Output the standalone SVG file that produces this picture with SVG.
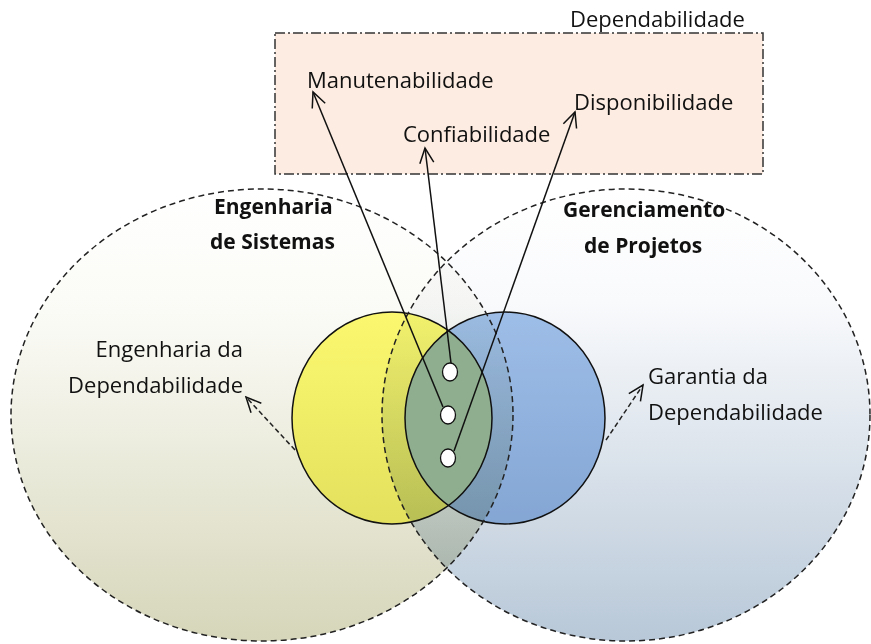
<svg xmlns="http://www.w3.org/2000/svg" width="871" height="644" viewBox="0 0 871 644">
<defs>
<linearGradient id="gL" x1="0" y1="189" x2="0" y2="641" gradientUnits="userSpaceOnUse">
<stop offset="0" stop-color="#ffffff"/><stop offset="0.3" stop-color="#fafaf5"/><stop offset="1" stop-color="#d6d6ba"/>
</linearGradient>
<linearGradient id="gR" x1="0" y1="189" x2="0" y2="641" gradientUnits="userSpaceOnUse">
<stop offset="0" stop-color="#ffffff"/><stop offset="0.25" stop-color="#f9fafc"/><stop offset="1" stop-color="#b8c8d8"/>
</linearGradient>
<marker id="ah" viewBox="-17 -9 19 18" refX="0" refY="0" markerWidth="19" markerHeight="18" markerUnits="userSpaceOnUse" orient="auto">
<path d="M-15,-7 L0,0 L-15,7" fill="none" stroke="#111" stroke-width="1.5"/>
</marker>
</defs>
<style>
.t{font-family:"Open Sans","Liberation Sans",sans-serif;font-size:22px;fill:#111;font-variant-ligatures:none}
.b{font-family:"Open Sans","Liberation Sans",sans-serif;font-size:21px;font-weight:bold;fill:#111;font-variant-ligatures:none}
.big{fill:none;stroke:#222;stroke-width:1.5;stroke-dasharray:6 4}
.sm{stroke:#111;stroke-width:1.5;fill:none}
.dot{fill:#fff;stroke:#111;stroke-width:1.3}
.con{fill:none;stroke:#111;stroke-width:1.5}
.dcon{fill:none;stroke:#222;stroke-width:1.5;stroke-dasharray:5 3}
.mul{mix-blend-mode:multiply}
</style>
<g id="dependabilidade">
<rect x="275" y="33" width="488" height="141" fill="#fdece1" stroke="#333" stroke-width="1.5" stroke-dasharray="10 3 2 3"/>
<text class="t" x="570" y="27">Dependabilidade</text>
</g>
<g id="engenharia-sistemas-fill">
<ellipse cx="262" cy="415" rx="251" ry="226" fill="url(#gL)"/>
</g>
<g id="gerenciamento-projetos-fill">
<ellipse class="mul" cx="626" cy="415" rx="244" ry="226" fill="url(#gR)"/>
</g>
<g id="engenharia-dependabilidade-circle">
<ellipse class="mul" cx="392" cy="418" rx="100" ry="106" fill="#fffc73"/>
</g>
<g id="garantia-dependabilidade-circle">
<ellipse class="mul" cx="505" cy="418" rx="100" ry="106" fill="#a3c3ec"/>
</g>
<g id="intersection">
<path d="M448.5,330.5 A100,106 0 0,1 448.5,505.5 A100,106 0 0,1 448.5,330.5 Z" fill="#8fae8f"/>
<ellipse class="sm" cx="392" cy="418" rx="100" ry="106"/>
<ellipse class="sm" cx="505" cy="418" rx="100" ry="106"/>
</g>
<g id="engenharia-sistemas">
<ellipse class="big" cx="262" cy="415" rx="251" ry="226"/>
<text class="b" x="214" y="214">Engenharia</text>
<text class="b" x="210" y="249">de Sistemas</text>
</g>
<g id="gerenciamento-projetos">
<ellipse class="big" cx="626" cy="415" rx="244" ry="226"/>
<text class="b" x="563" y="217">Gerenciamento</text>
<text class="b" x="584" y="253">de Projetos</text>
</g>
<g id="engenharia-dependabilidade-label">
<text class="t" x="243" y="357" text-anchor="end">Engenharia da</text>
<text class="t" x="243" y="393" text-anchor="end">Dependabilidade</text>
</g>
<g id="garantia-dependabilidade-label">
<text class="t" x="648" y="384">Garantia da</text>
<text class="t" x="648" y="420">Dependabilidade</text>
</g>
<g id="manutenabilidade"><text class="t" x="307" y="88">Manutenabilidade</text></g>
<g id="disponibilidade"><text class="t" x="574" y="110">Disponibilidade</text></g>
<g id="confiabilidade"><text class="t" x="403" y="142">Confiabilidade</text></g>
<g id="points">
<ellipse class="dot" cx="450" cy="372" rx="7.5" ry="9"/>
<ellipse class="dot" cx="448" cy="415" rx="7.5" ry="9"/>
<ellipse class="dot" cx="448" cy="458" rx="7.5" ry="9"/>
</g>
<g id="connectors">
<line class="con" x1="443" y1="407" x2="313" y2="92" marker-end="url(#ah)"/>
<line class="con" x1="451" y1="363" x2="425" y2="148" marker-end="url(#ah)"/>
<line class="con" x1="454" y1="451" x2="575" y2="112" marker-end="url(#ah)"/>
<line class="dcon" x1="295" y1="450" x2="246" y2="397" marker-end="url(#ah)"/>
<line class="dcon" x1="606" y1="440" x2="643" y2="385" marker-end="url(#ah)"/>
</g>
</svg>
